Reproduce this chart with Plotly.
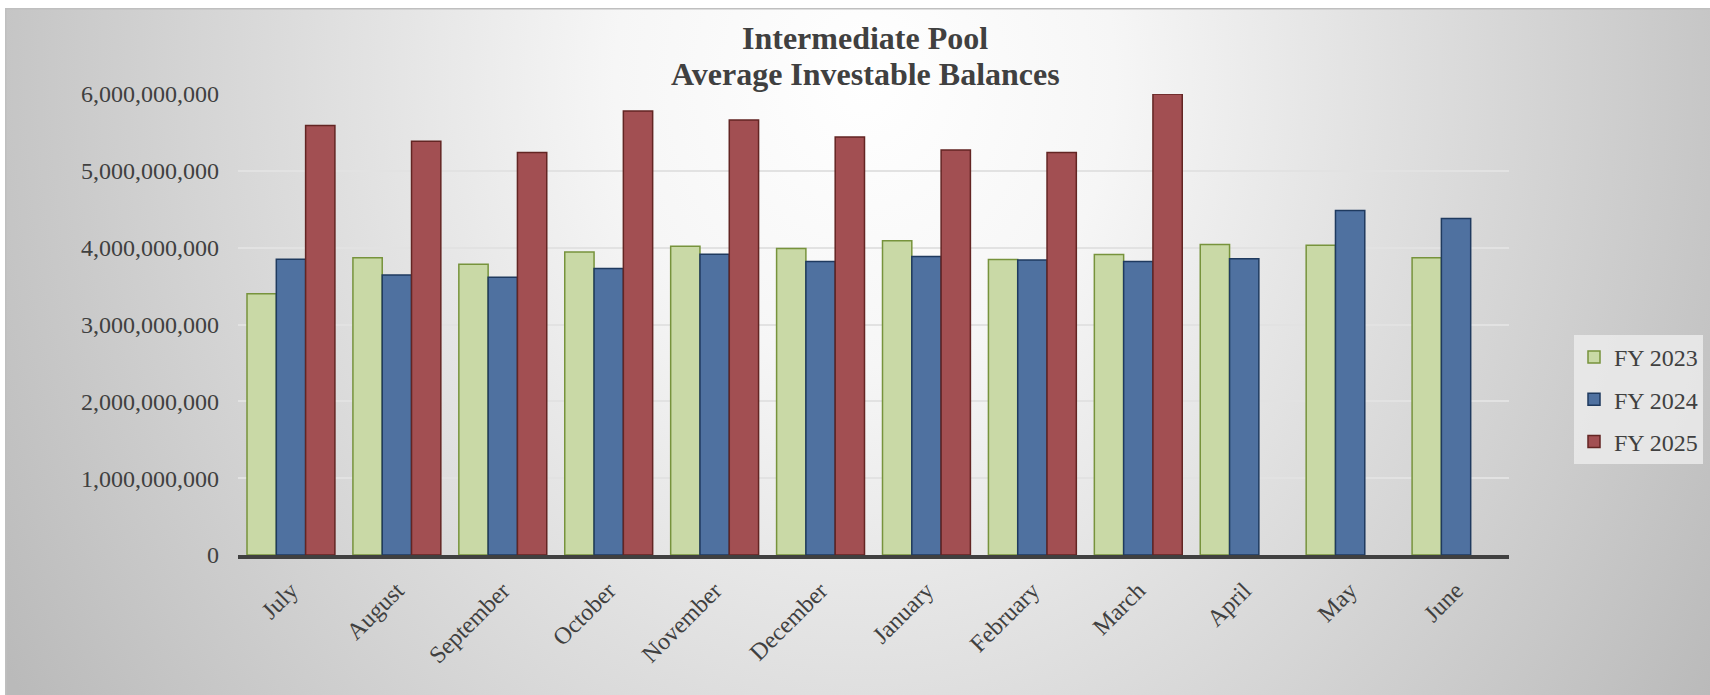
import base64
import plotly.graph_objects as go

months = ["July", "August", "September", "October", "November", "December",
          "January", "February", "March", "April", "May", "June"]
fy2023 = [3.40e9, 3.87e9, 3.785e9, 3.945e9, 4.02e9, 3.99e9, 4.09e9, 3.845e9, 3.91e9, 4.04e9, 4.03e9, 3.87e9]
fy2024 = [3.85e9, 3.645e9, 3.615e9, 3.73e9, 3.915e9, 3.82e9, 3.885e9, 3.84e9, 3.82e9, 3.855e9, 4.485e9, 4.38e9]
fy2025 = [5.59e9, 5.385e9, 5.24e9, 5.78e9, 5.66e9, 5.44e9, 5.27e9, 5.24e9, 6.00e9, None, None, None]
series_names = ["FY 2023", "FY 2024", "FY 2025"]
y_ticks = [0, 1e9, 2e9, 3e9, 4e9, 5e9, 6e9]
y_tick_text = ["0", "1,000,000,000", "2,000,000,000", "3,000,000,000",
               "4,000,000,000", "5,000,000,000", "6,000,000,000"]
title_lines = ["Intermediate Pool", "Average Investable Balances"]

W, H = 1710, 695
L, R, T, B = 238, 1509, 94, 555
pw, ph = R - L, B - T

fills = ["#c9d9a6", "#4f71a0", "#a24f52"]
lines = ["#77933c", "#1f3a5f", "#632523"]
FONT = "Liberation Serif, Times New Roman, serif"

fig = go.Figure()
for name, vals, fc, lc in zip(series_names, [fy2023, fy2024, fy2025], fills, lines):
    fig.add_trace(go.Bar(
        x=months, y=vals, name=name, legendgroup=name,
        marker=dict(color=fc, line=dict(color=lc, width=1.5)),
    ))

svg = '''<svg xmlns="http://www.w3.org/2000/svg" width="1705" height="686" viewBox="0 0 1705 686" preserveAspectRatio="none">
<defs><radialGradient id="g" gradientUnits="userSpaceOnUse" cx="0" cy="0" r="1" gradientTransform="translate(860,70) scale(1000,1150)">
<stop offset="0" stop-color="#ffffff"/><stop offset="0.25" stop-color="#f6f6f6"/><stop offset="1" stop-color="#bababa"/>
</radialGradient></defs>
<rect x="0" y="0" width="1705" height="686" fill="url(#g)"/>
<rect x="0.5" y="0.5" width="1710" height="690" fill="none" stroke="#bfbfbf" stroke-width="2"/>
</svg>'''
src = "data:image/svg+xml;base64," + base64.b64encode(svg.encode()).decode()
bx0, by0 = 5, 8
fig.add_layout_image(dict(
    source=src, xref="paper", yref="paper",
    x=(bx0 - L) / pw, y=(B - by0) / ph,
    sizex=(W - bx0) / pw, sizey=(H - by0) / ph,
    xanchor="left", yanchor="top", sizing="stretch", layer="below",
))

for line_text, yc in zip(title_lines, [38, 74]):
    fig.add_annotation(
        text=f"<b>{line_text}</b>", xref="paper", yref="paper",
        x=(865 - L) / pw, y=(B - yc) / ph, xanchor="center", yanchor="middle",
        showarrow=False, align="center",
        font=dict(family=FONT, size=32, color="#404040"),
    )

fig.update_layout(
    width=W, height=H,
    margin=dict(l=L, r=W - R, t=T, b=H - B, autoexpand=False),
    paper_bgcolor="white", plot_bgcolor="rgba(0,0,0,0)",
    barmode="group", bargap=0.17, bargroupgap=0,
    font=dict(family=FONT, color="#404040", size=24),
    legend=dict(x=(1574 - L) / pw, y=(B - 335) / ph, xanchor="left", yanchor="top",
                bgcolor="rgba(235,235,235,0.85)", borderwidth=0,
                font=dict(family=FONT, size=24, color="#404040"),
                tracegroupgap=8, itemwidth=30),
    showlegend=True,
)
fig.update_xaxes(showline=True, linecolor="#404040", linewidth=4, ticks="",
                 tickangle=-45, tickfont=dict(family=FONT, size=24, color="#404040"),
                 showgrid=False, ticklabelstandoff=8)
fig.update_yaxes(range=[0, 6e9], tickvals=y_ticks, ticktext=y_tick_text,
                 showgrid=True, gridcolor="#e2e2e2", gridwidth=1.5, zeroline=False,
                 ticks="", tickfont=dict(family=FONT, size=24, color="#404040"),
                 ticklabelstandoff=18)

fig.write_html("out.html")
